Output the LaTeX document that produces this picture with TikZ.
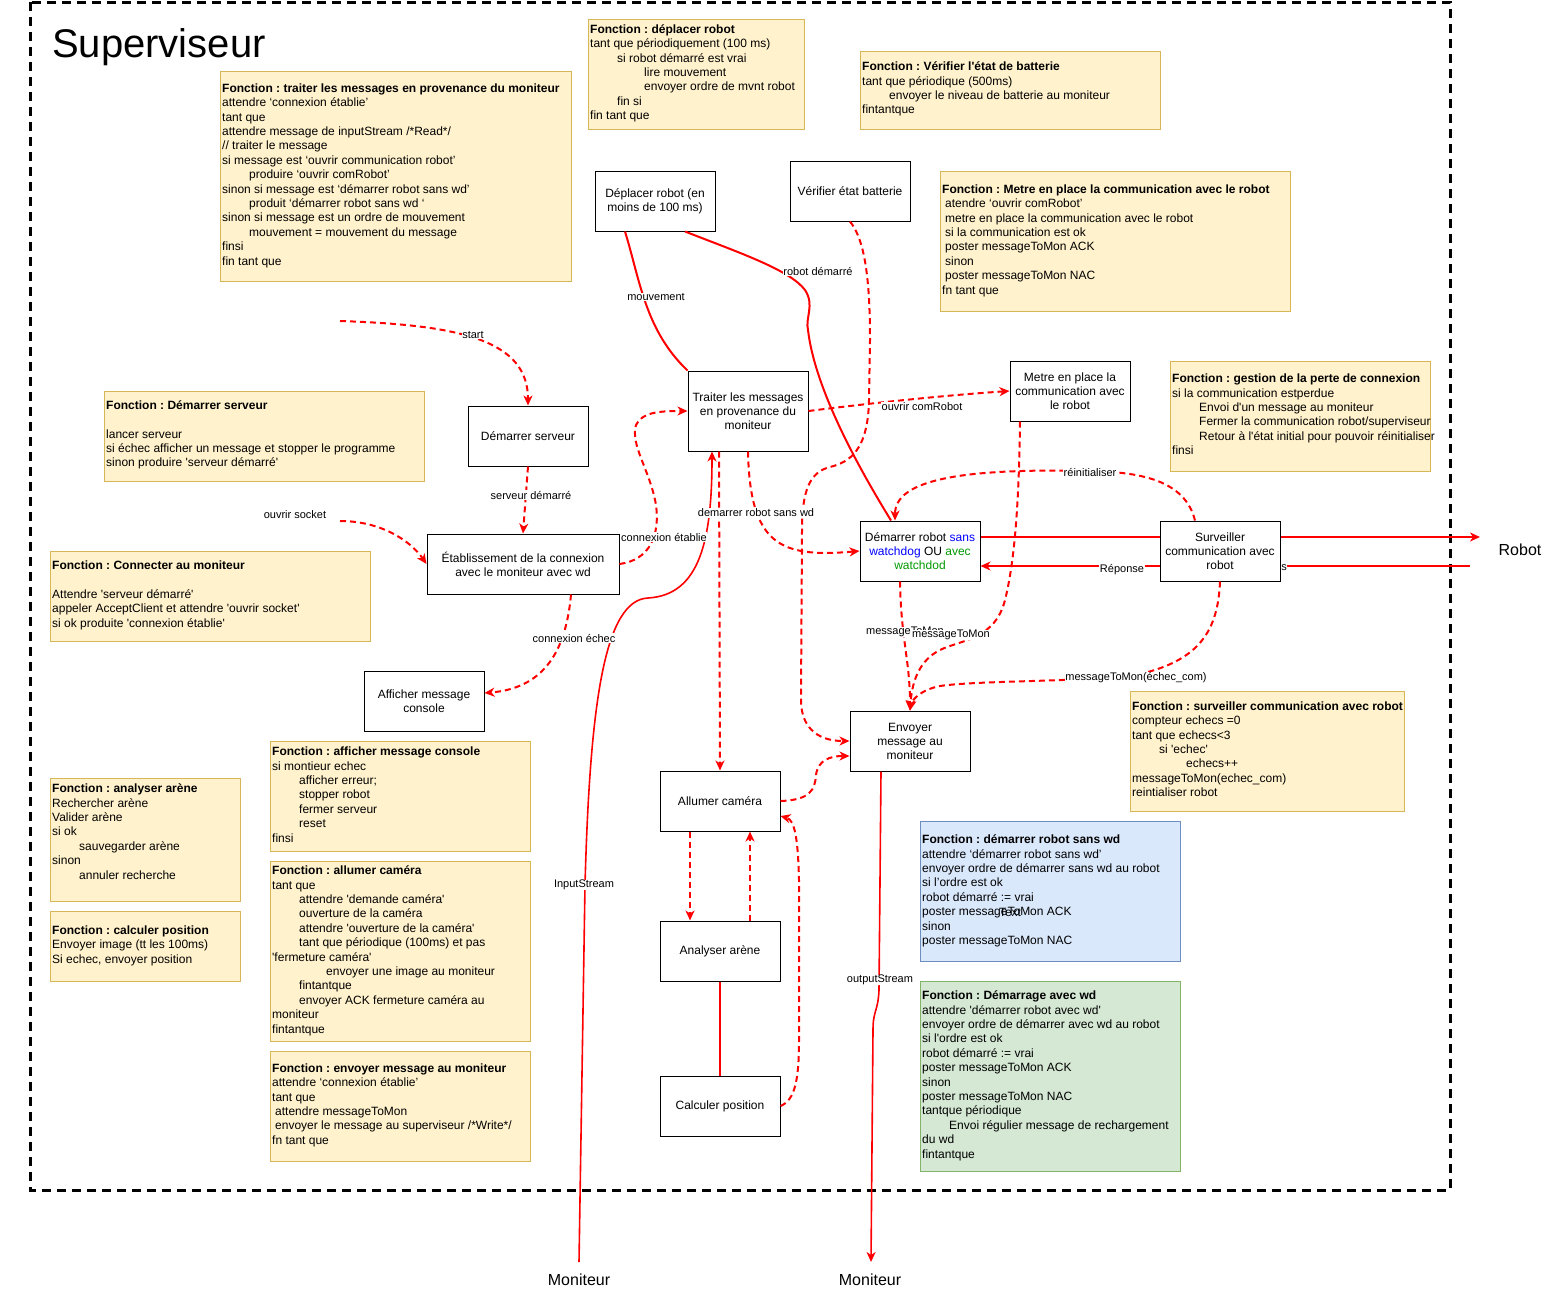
\documentclass[tikz,border=0pt]{standalone}
\usepackage{fontspec}
\setmainfont{Liberation Sans}
\newfontfamily\lsans{Liberation Sans}
\usetikzlibrary{arrows.meta}
\definecolor{fnfill}{HTML}{FFF2CC}
\definecolor{fndraw}{HTML}{D6B656}
\definecolor{bluefill}{HTML}{DAE8FC}
\definecolor{bluedraw}{HTML}{6C8EBF}
\definecolor{greenfill}{HTML}{D5E8D4}
\definecolor{greendraw}{HTML}{82B366}
\definecolor{wdblue}{HTML}{0000FF}
\definecolor{wdgreen}{HTML}{009900}
\definecolor{lnred}{HTML}{FF0000}
\newcommand{\tabA}{\hspace*{27pt}}
\newcommand{\tabB}{\hspace*{54pt}}
\newcommand{\spA}{\hspace*{3pt}}
\newcommand{\fst}{\rule{0pt}{10pt}}
\begin{document}
\frenchspacing
\begin{tikzpicture}[x=1pt,y=-1pt,
  fnbox/.style={draw=fndraw, fill=fnfill, line width=1pt, anchor=north west, inner sep=0pt, outer sep=0pt},
  bluebox/.style={fnbox, draw=bluedraw, fill=bluefill},
  greenbox/.style={fnbox, draw=greendraw, fill=greenfill},
  fntext/.style={anchor=north west, inner sep=0pt, align=left, font=\lsans\fontsize{12}{14.4}\selectfont\frenchspacing},
  proc/.style={draw=black, fill=white, line width=1pt, minimum width=120pt, minimum height=60pt, align=center, inner sep=1pt, font=\lsans\fontsize{12}{14}\selectfont\frenchspacing},
  lbl/.style={fill=white, inner sep=0.5pt, font=\lsans\fontsize{11}{13}\selectfont},
  big/.style={inner sep=0pt, font=\lsans\fontsize{16}{19}\selectfont},
  redd/.style={draw=lnred, line width=2pt, dash pattern=on 6pt off 4pt},
  reds/.style={draw=lnred, line width=2pt},
  tip/.style={-{Stealth[length=10pt,width=9pt,inset=3pt]}},
]
\useasboundingbox (0,0) rectangle (1552,1293);

% outer frame
\draw[line width=3pt, dash pattern=on 9pt off 6pt] (30,2) rectangle (1450,1190);
\node[anchor=base west, inner sep=0pt, font=\lsans\fontsize{40}{48}\selectfont] (title) at (52,57) {Superviseur};

% function boxes
\node[fnbox, minimum width=351pt, minimum height=210pt] (ftrait) at (220,71) {};
\node[fntext] (ttrait) at (222,82) {\fst\textbf{Fonction : traiter les messages en provenance du moniteur}\\
attendre ‘connexion établie’\\
tant que\\
attendre message de inputStream /*Read*/\\
// traiter le message\\
si message est ‘ouvrir communication robot’\\
\tabA produire ‘ouvrir comRobot’\\
sinon si message est ‘démarrer robot sans wd’\\
\tabA produit ‘démarrer robot sans wd ‘\\
sinon si message est un ordre de mouvement\\
\tabA mouvement = mouvement du message\\
finsi\\
fin tant que};

\node[fnbox, minimum width=216pt, minimum height=110pt] (fdep) at (588,19) {};
\node[fntext] (tdep) at (590,23) {\fst\textbf{Fonction : déplacer robot}\\
tant que périodiquement (100 ms)\\
\tabA si robot démarré est vrai\\
\tabB lire mouvement\\
\tabB envoyer ordre de mvnt robot\\
\tabA fin si\\
fin tant que};

\node[fnbox, minimum width=300pt, minimum height=78pt] (fbat) at (860,51) {};
\node[fntext] (tbat) at (862,60.5) {\fst\textbf{Fonction : Vérifier l'état de batterie}\\
tant que périodique (500ms)\\
\tabA envoyer le niveau de batterie au moniteur\\
fintantque};

\node[fnbox, minimum width=350pt, minimum height=140pt] (fmetre) at (940,171) {};
\node[fntext] (tmetre) at (942,183) {\fst\textbf{Fonction : Metre en place la communication avec le robot}\\
\spA atendre ‘ouvrir comRobot’\\
\spA metre en place la communication avec le robot\\
\spA si la communication est ok\\
\spA poster messageToMon ACK\\
\spA sinon\\
\spA poster messageToMon NAC\\
fn tant que};

\node[fnbox, minimum width=260pt, minimum height=110pt] (fgest) at (1170,361) {};
\node[fntext] (tgest) at (1172,372.5) {\fst\textbf{Fonction : gestion de la perte de connexion}\\
si la communication estperdue\\
\tabA Envoi d'un message au moniteur\\
\tabA Fermer la communication robot/superviseur\\
\tabA Retour à l'état initial pour pouvoir réinitialiser\\
finsi};

\node[fnbox, minimum width=320pt, minimum height=90pt] (fserv) at (104,391) {};
\node[fntext] (tserv) at (106,399) {\fst\textbf{Fonction : Démarrer serveur}\\[14.4pt]
lancer serveur\\
si échec afficher un message et stopper le programme\\
sinon produire 'serveur démarré'};

\node[fnbox, minimum width=320pt, minimum height=90pt] (fconn) at (50,551) {};
\node[fntext] (tconn) at (52,559.5) {\fst\textbf{Fonction : Connecter au moniteur}\\[14.4pt]
Attendre 'serveur démarré'\\
appeler AcceptClient et attendre 'ouvrir socket'\\
si ok produite 'connexion établie'};

\node[fnbox, minimum width=260pt, minimum height=110pt] (faff) at (270,741) {};
\node[fntext] (taff) at (272,745.5) {\fst\textbf{Fonction : afficher message console}\\
si montieur echec\\
\tabA afficher erreur;\\
\tabA stopper robot\\
\tabA fermer serveur\\
\tabA reset\\
finsi};

\node[fnbox, minimum width=190pt, minimum height=123pt] (fana) at (50,778) {};
\node[fntext] (tana) at (52,782.5) {\fst\textbf{Fonction : analyser arène}\\
Rechercher arène\\
Valider arène\\
si ok\\
\tabA sauvegarder arène\\
sinon\\
\tabA annuler recherche};

\node[fnbox, minimum width=190pt, minimum height=70pt] (fcalc) at (50,911) {};
\node[fntext] (tcalc) at (52,924) {\fst\textbf{Fonction : calculer position}\\
Envoyer image (tt les 100ms)\\
Si echec, envoyer position};

\node[fnbox, minimum width=260pt, minimum height=180pt] (fcam) at (270,861) {};
\node[fntext] (tcam) at (272,864.5) {\fst\textbf{Fonction : allumer caméra}\\
tant que\\
\tabA attendre 'demande caméra'\\
\tabA ouverture de la caméra\\
\tabA attendre 'ouverture de la caméra'\\
\tabA tant que périodique (100ms) et pas\\
'fermeture caméra'\\
\tabB envoyer une image au moniteur\\
\tabA fintantque\\
\tabA envoyer ACK fermeture caméra au\\
moniteur\\
fintantque};

\node[fnbox, minimum width=260pt, minimum height=110pt] (fenv) at (270,1051) {};
\node[fntext] (tenv) at (272,1062) {\fst\textbf{Fonction : envoyer message au moniteur}\\
attendre ‘connexion établie’\\
tant que\\
\spA attendre messageToMon\\
\spA envoyer le message au superviseur /*Write*/\\
fn tant que};

\node[fnbox, minimum width=274pt, minimum height=120pt] (fsurv) at (1130,691) {};
\node[fntext] (tsurv) at (1132,700) {\fst\textbf{Fonction : surveiller communication avec robot}\\
compteur echecs =0\\
tant que echecs<3\\
\tabA si 'echec'\\
\tabB echecs++\\
messageToMon(echec\_com)\\
reintialiser robot};

\node[bluebox, minimum width=260pt, minimum height=140pt] (fsans) at (920,821) {};
\node[fntext] (tsans) at (922,833.5) {\fst\textbf{Fonction : démarrer robot sans wd}\\
attendre ‘démarrer robot sans wd’\\
envoyer ordre de démarrer sans wd au robot\\
si l’ordre est ok\\
robot démarré := vrai\\
poster messageToMon ACK\\
sinon\\
poster messageToMon NAC};
\node[inner sep=0pt, font=\lsans\fontsize{12}{14}\selectfont] (textov) at (1010,912) {Text};

\node[greenbox, minimum width=260pt, minimum height=190pt] (favec) at (920,981) {};
\node[fntext] (tavec) at (922,989.5) {\fst\textbf{Fonction : Démarrage avec wd}\\
attendre 'démarrer robot avec wd'\\
envoyer ordre de démarrer avec wd au robot\\
si l'ordre est ok\\
robot démarré := vrai\\
poster messageToMon ACK\\
sinon\\
poster messageToMon NAC\\
tantque périodique\\
\tabA Envoi régulier message de rechargement\\
du wd\\
fintantque};

% process boxes
\node[proc] (dep) at (655,201) {Déplacer robot (en\\moins de 100 ms)};
\node[proc] (bat) at (850,191) {Vérifier état batterie};
\node[proc, minimum height=80pt] (trait) at (748,411) {Traiter les messages\\en provenance du\\moniteur};
\node[proc] (metre) at (1070,391) {Metre en place la\\communication avec\\le robot};
\node[proc] (dserv) at (528,436) {Démarrer serveur};
\node[proc, minimum width=192pt] (etab) at (523,564) {Établissement de la connexion\\avec le moniteur avec wd};
\node[proc] (affich) at (424,701) {Afficher message\\console};
\node[proc] (drob) at (920,551) {Démarrer robot {\color{wdblue}sans}\\{\color{wdblue}watchdog} OU {\color{wdgreen}avec}\\{\color{wdgreen}watchdod}};
\node[proc] (surv) at (1220,551) {Surveiller\\communication avec\\robot};
\node[proc] (env) at (910,741) {Envoyer\\message au\\moniteur};
\node[proc] (cam) at (720,801) {Allumer caméra};
\node[proc] (arene) at (720,951) {Analyser arène};
\node[proc] (calc) at (720,1106) {Calculer position};

% external ends
\coordinate (startpt) at (340,321);
\coordinate (sockpt) at (340,521);
\coordinate (robotpt) at (1480,537);
\coordinate (robotin) at (1470,566);
\coordinate (mon1) at (579,1262);
\coordinate (mon2) at (871,1262);
\node[big, anchor=base] (robl) at (1520,555) {Robot};
\node[big, anchor=base] (mon1l) at (579,1285) {Moniteur};
\node[big, anchor=base] (mon2l) at (870,1285) {Moniteur};
\node[inner sep=0pt, font=\lsans\fontsize{11}{13}\selectfont] (sockl) at (295,515) {ouvrir socket};

% connectors
\draw[redd,tip] (startpt) .. controls (460,325) and (528,340) .. (dserv.north);
\draw[redd,tip] (dserv.south) -- (etab.north);
\draw[redd,tip] (sockpt) .. controls (380,521) and (410,540) .. (etab.west);
\draw[redd,tip] (etab.east) .. controls (650,560) and (660,535) .. (656,505) .. controls (650,470) and (630,445) .. (636,425) .. controls (642,412) and (660,411) .. (trait.west);
\draw[redd,tip] ([xshift=48pt]etab.south) .. controls (566,650) and (545,688) .. ([yshift=8pt]affich.east);
\draw[redd,tip] (trait.east) .. controls (880,402) and (950,395) .. (metre.west);
\draw[redd,tip] (trait.south) .. controls (750,545) and (780,558) .. (drob.west);
\draw[redd,tip] ([xshift=-29pt]trait.south) -- (cam.north);
\draw[reds,line width=1.6pt,tip] (mon1) -- (585,885) .. controls (590,700) and (605,600) .. (648,598) .. controls (700,595) and (712,540) .. ([xshift=-36pt]trait.south);
\draw[reds] ([xshift=-30pt]dep.south) .. controls (640,280) and (645,330) .. (trait.north west);
\draw[reds] ([xshift=30pt]dep.south) .. controls (740,253) and (790,270) .. (805,290) .. controls (815,305) and (805,318) .. (808,330) .. controls (815,390) and (860,470) .. ([xshift=-29pt]drob.north);
\draw[redd,tip] (bat.south) .. controls (865,240) and (870,280) .. (870,340) -- (869,400) .. controls (868,450) and (850,462) .. (830,467) .. controls (810,472) and (802,490) .. (802,530) -- (801,700) .. controls (801,725) and (815,741) .. (env.west);
\draw[redd,tip] (cam.east) .. controls (810,800) and (815,790) .. (816,775) .. controls (818,760) and (830,756) .. ([yshift=-15pt]env.west);
\draw[redd,tip] ([xshift=-30pt]cam.south) -- ([xshift=-30pt]arene.north);
\draw[redd,tip] ([xshift=30pt]arene.north) -- ([xshift=30pt]cam.south);
\draw[reds] (arene.south) -- (calc.north);
\draw[redd,tip] (calc.east) .. controls (795,1100) and (799,1080) .. (799,1040) -- (799,880) .. controls (798,840) and (795,820) .. ([yshift=-15pt]cam.east);
\draw[redd,tip] ([xshift=-20pt]drob.south) .. controls (901,640) and (910,660) .. (env.north);
\draw[redd,tip] ([xshift=-50pt]metre.south) .. controls (1019,500) and (1015,560) .. (1005,600) .. controls (995,640) and (960,640) .. (940,650) .. controls (920,660) and (912,680) .. (env.north);
\draw[redd,tip] (surv.south) .. controls (1218,630) and (1200,660) .. (1140,674) .. controls (1100,682) and (980,680) .. (940,686) .. controls (920,690) and (912,700) .. (env.north);
\draw[redd,tip] ([xshift=-25pt]surv.north) .. controls (1185,480) and (1140,472) .. (1090,471) .. controls (960,468) and (895,480) .. ([xshift=-25pt]drob.north);
\draw[reds] ([yshift=14pt]drob.east) -- ([yshift=14pt]surv.west);
\draw[reds,tip] ([yshift=14pt]surv.east) -- (robotpt);
\draw[reds] (robotin) -- ([yshift=-15pt]surv.east);
\draw[reds,tip] ([yshift=-15pt]surv.west) -- ([yshift=-15pt]drob.east);
\draw[reds,line width=1.6pt,tip] ([xshift=-29pt]env.south) -- (879,990) .. controls (878,1012) and (873,1010) .. (873,1030) -- (mon2);

% connector labels
\node[lbl] (lstart) at (473,335) {start};
\node[lbl] (lserv) at (531,495) {serveur démarré};
\node[lbl] (letab) at (664,537) {connexion établie};
\node[lbl] (lechec) at (574,638) {connexion échec};
\node[lbl] (lcom) at (922,407) {ouvrir comRobot};
\node[lbl] (lsans) at (756,513) {demarrer robot sans wd};
\node[lbl] (lmouv) at (656,297) {mouvement};
\node[lbl] (lrobd) at (818,271) {robot démarré};
\node[lbl] (linput) at (584,885) {InputStream};
\node[lbl] (loutput) at (880,980) {outputStream};
\node[lbl] (lreinit) at (1090,472) {réinitialiser};
\node[lbl] (lrep) at (1122,570) {Réponse};
\node[lbl] (ls) at (1284,568) {s};
\node[lbl, anchor=west] (lmsg1) at (865.5,632) {messageToMon};
\node[lbl] (lmsg2) at (951,635) {messageToMon};
\node[lbl] (lechcom) at (1136,678) {messageToMon(échec\_com)};
\end{tikzpicture}
\end{document}
